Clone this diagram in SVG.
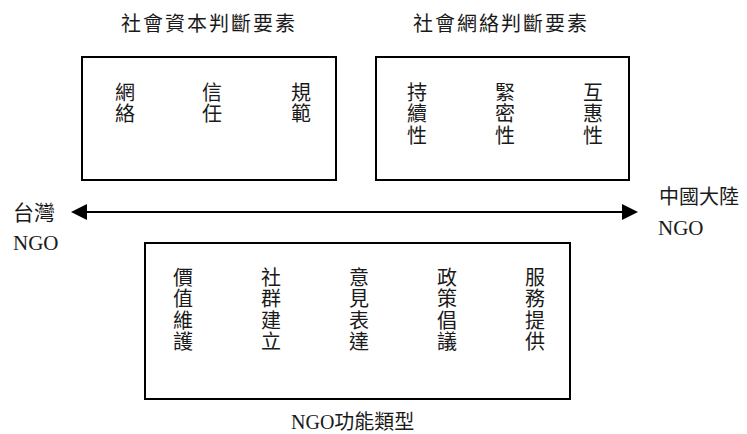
<svg xmlns="http://www.w3.org/2000/svg" width="747" height="434" viewBox="0 0 747 434">
  <style>
    .box { fill: #ffffff; stroke: #000000; stroke-width: 2; }
    .t { font-family: "Liberation Serif", "Noto Sans CJK TC", serif; fill: #1a1a1a; }
    .title { font-size: 20px; letter-spacing: 2px; }
    .v { font-family: "Noto Sans CJK TC", sans-serif; font-size: 20px; writing-mode: vertical-rl; letter-spacing: 1.5px; fill: #1a1a1a; }
    .lbl { font-size: 21px; }
    .conn { stroke: #000000; stroke-width: 2; fill: none; }
  </style>
  <defs>
    <marker id="head" viewBox="0 0 16 16" refX="1" refY="8" markerWidth="16" markerHeight="16" markerUnits="userSpaceOnUse" orient="auto-start-reverse">
      <path d="M0,0 L16,8 L0,16 z" fill="#000000"/>
    </marker>
  </defs>
  <rect width="747" height="434" fill="#ffffff"/>

  <g id="social-capital">
    <text class="t title" x="121" y="31">社會資本判斷要素</text>
    <rect class="box" x="82" y="57" width="254" height="123"/>
    <text class="v" x="125" y="82">網絡</text>
    <text class="v" x="212" y="82">信任</text>
    <text class="v" x="301" y="82">規範</text>
  </g>

  <g id="social-network">
    <text class="t title" x="413" y="31">社會網絡判斷要素</text>
    <rect class="box" x="376" y="57" width="253" height="123"/>
    <text class="v" x="417" y="82">持續性</text>
    <text class="v" x="505" y="82">緊密性</text>
    <text class="v" x="593" y="82">互惠性</text>
  </g>

  <g id="taiwan-ngo">
    <text class="t lbl" x="13" y="220">台灣</text>
    <text class="t lbl" x="13" y="250">NGO</text>
  </g>

  <g id="china-ngo">
    <text class="t lbl" x="659" y="204" style="font-size:20px">中國大陸</text>
    <text class="t lbl" x="658" y="235">NGO</text>
  </g>

  <g id="ngo-functions">
    <rect class="box" x="145" y="243" width="425" height="156"/>
    <text class="v" x="183" y="267">價值維護</text>
    <text class="v" x="271" y="267">社群建立</text>
    <text class="v" x="359" y="267">意見表達</text>
    <text class="v" x="447" y="267">政策倡議</text>
    <text class="v" x="535" y="267">服務提供</text>
    <text class="t lbl" x="291" y="429" style="font-size:20px">NGO功能類型</text>
  </g>

  <g id="connectors">
    <line class="conn" x1="86" y1="212" x2="623" y2="212" marker-start="url(#head)" marker-end="url(#head)"/>
  </g>
</svg>
